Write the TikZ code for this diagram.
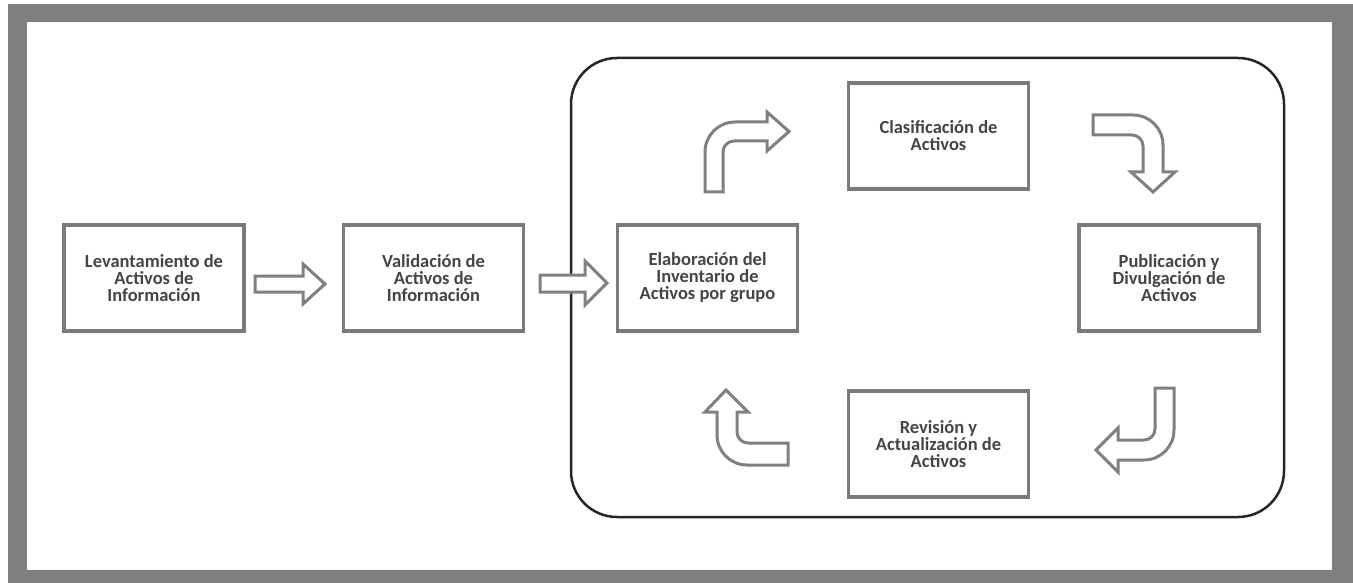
\documentclass[tikz,border=0pt]{standalone}
\usepackage{fontspec}
\setmainfont{Carlito}
\definecolor{framegray}{HTML}{7F7F7F}
\definecolor{boxgray}{HTML}{7A7A7A}
\definecolor{arrgray}{HTML}{808080}
\definecolor{txtgray}{HTML}{454545}
\begin{document}
\begin{tikzpicture}[x=1pt,y=-1pt,
  box/.style={draw=boxgray, line width=3.5pt, fill=white, minimum width=180pt, minimum height=106pt,
    align=center, text=txtgray, font=\fontsize{18.5}{17}\selectfont\bfseries},
  arr/.style={draw=arrgray, line width=3pt, fill=white, line join=miter}]
\useasboundingbox (0,0) rectangle (1353,583);
\fill[white] (0,0) rectangle (1353,583);
\fill[framegray] (8,4) rectangle (1353,583);
\fill[white] (27,22) rectangle (1332,570);
\draw[black!85, line width=2.5pt, rounded corners=46pt] (571,58) rectangle (1284,517);

\node[box] (lev) at (154,278) {Levantamiento de\\Activos de\\Información};
\node[box] (val) at (433.5,278) {Validación de\\Activos de\\Información};
\node[box] (ela) at (707.5,278) {Elaboración del\\Inventario de\\Activos por grupo};
\node[box] (cla) at (938.5,136) {Clasificación de\\Activos};
\node[box] (pub) at (1169,278) {Publicación y\\Divulgación de\\Activos};
\node[box] (rev) at (938.5,444) {Revisión y\\Actualización de\\Activos};

% straight arrows
\draw[arr] (255,276) -- (303,276) -- (303,264) -- (325,284) -- (303,304) -- (303,292) -- (255,292) -- cycle;
\draw[arr] (540,275) -- (585,275) -- (585,261) -- (607,283) -- (585,305) -- (585,292) -- (540,292) -- cycle;

% bent arrows
\draw[arr] (705,192) [rounded corners=30pt] -- (705,122) [sharp corners] -- (767,122) -- (767,112) -- (789,131.5) -- (767,151) -- (767,141)
  [rounded corners=11pt] -- (723,141) [sharp corners] -- (723,192) -- cycle;
\draw[arr] (1093,115) [rounded corners=30pt] -- (1163,115) [sharp corners] -- (1163,172) -- (1175,172) -- (1153,192) -- (1131,172) -- (1143,172)
  [rounded corners=11pt] -- (1143,135) [sharp corners] -- (1093,135) -- cycle;
\draw[arr] (1155,388) -- (1174,388) [rounded corners=30pt] -- (1174,460) [sharp corners] -- (1118,460) -- (1118,472) -- (1096,450) -- (1118,428) -- (1118,440)
  [rounded corners=11pt] -- (1155,440) [sharp corners] -- cycle;
\draw[arr] (726,390) -- (748,412) -- (737,412) [rounded corners=11pt] -- (737,443) [sharp corners] -- (788,443) -- (788,465)
  [rounded corners=30pt] -- (717,465) [sharp corners] -- (717,412) -- (705,412) -- cycle;
\end{tikzpicture}
\end{document}
